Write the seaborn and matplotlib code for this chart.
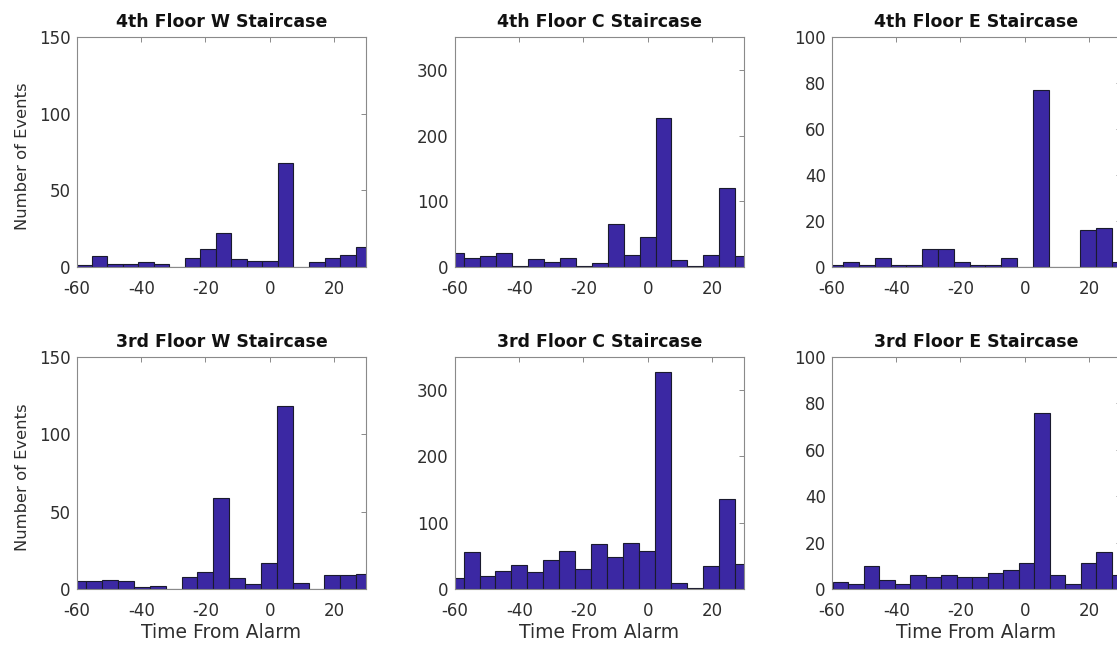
import numpy as np
import pandas as pd
import matplotlib
matplotlib.use("Agg")
import matplotlib.pyplot as plt
import seaborn as sns

# ---- data ----
titles = ["4th Floor W Staircase", "4th Floor C Staircase", "4th Floor E Staircase",
          "3rd Floor W Staircase", "3rd Floor C Staircase", "3rd Floor E Staircase"]

counts_4W = [1, 7, 2, 2, 3, 2, 0, 6, 12, 22, 5, 4, 4, 68, 0, 3, 6, 8, 13]
counts_4C = [21, 13, 17, 21, 2, 12, 7, 14, 1, 6, 65, 19, 46, 227, 11, 1, 19, 120, 16]
counts_4E = [1, 2, 1, 4, 1, 1, 8, 8, 2, 1, 1, 4, 0, 77, 0, 0, 16, 17, 2]
counts_3W = [5, 5, 6, 5, 1, 2, 0, 8, 11, 59, 7, 3, 17, 118, 4, 0, 9, 9, 10]
counts_3C = [16, 56, 19, 27, 36, 26, 44, 58, 30, 68, 49, 70, 58, 328, 9, 2, 35, 136, 38]
counts_3E = [3, 2, 10, 4, 2, 6, 5, 6, 5, 5, 7, 8, 11, 76, 6, 2, 11, 16, 6]
all_counts = [counts_4W, counts_4C, counts_4E, counts_3W, counts_3C, counts_3E]

# histogram bin layout (first edge, bin width) per panel
bin_start = [-60.2, -62.3, -61.4, -62.0, -62.3, -59.8]
bin_width = [4.83, 4.98, 4.92, 4.94, 4.97, 4.83]

y_max = [150, 350, 100, 150, 350, 100]
y_ticks = [[0, 50, 100, 150], [0, 100, 200, 300], [0, 20, 40, 60, 80, 100]] * 2
x_ticks = [-60, -40, -20, 0, 20]

# ---- style ----
sns.set_style("white")
plt.rcParams["font.family"] = ["DejaVu Sans"]
plt.rcParams["axes.unicode_minus"] = False

W, H = 1117, 645
fig = plt.figure(figsize=(W / 100, H / 100), dpi=100)

col_left = [77, 455, 832]
ax_w = 289
row_top = [37, 357]
ax_h = [230, 232]

bar_color = "#3B28A3"
axis_grey = "#8a8a8a"
text_col = "#2e2e2e"

for i in range(6):
    r, c = divmod(i, 3)
    left = col_left[c] / W
    bottom = (H - row_top[r] - ax_h[r]) / H
    ax = fig.add_axes([left, bottom, ax_w / W, ax_h[r] / H])
    cnt = [float(v) for v in all_counts[i]]
    edges = [bin_start[i] + bin_width[i] * k for k in range(len(cnt) + 1)]
    centers = [(edges[k] + edges[k + 1]) / 2 for k in range(len(cnt))]
    df = pd.DataFrame({"t": centers, "n": cnt})
    sns.histplot(data=df, x="t", weights="n", bins=edges, ax=ax,
                 color=bar_color, edgecolor="#1a1a2e", linewidth=0.8, alpha=1.0)
    ax.set_xlim(-60, 30)
    ax.set_ylim(0, y_max[i])
    ax.set_xticks(x_ticks)
    ax.set_yticks(y_ticks[i])
    ax.tick_params(direction="in", length=3.5, width=0.7, color=axis_grey,
                   top=True, right=True, labelsize=12, labelcolor=text_col)
    ax.tick_params(axis="x", pad=9.5)
    ax.tick_params(axis="y", pad=4.5)
    for s in ax.spines.values():
        s.set_color(axis_grey)
        s.set_linewidth(0.8)
        s.set_visible(True)
    ax.set_title(titles[i], fontsize=12.5, fontweight="bold", color="#111111", pad=7)
    if c == 0:
        ax.set_ylabel("Number of Events", fontsize=11.8, color=text_col)
        ax.yaxis.set_label_coords(-0.163, 0.48)
    else:
        ax.set_ylabel("")
    if r == 1:
        ax.set_xlabel("Time From Alarm", fontsize=13.5, color=text_col, labelpad=2)
    else:
        ax.set_xlabel("")

fig.savefig("out.png", dpi=100, facecolor="white")
